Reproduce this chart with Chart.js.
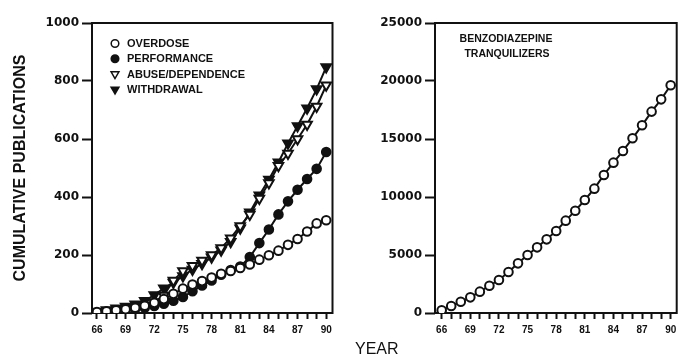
<!DOCTYPE html>
<html>
<head>
<meta charset="utf-8">
<script src="https://cdn.jsdelivr.net/npm/chart.js"></script>
<style>
  html, body { margin: 0; padding: 0; background: #fff; }
  #wrap { position: relative; width: 678px; height: 356px; overflow: hidden; }
  canvas { position: absolute; top: 0; }
  #left { left: 0; }
  #right { left: 340px; }
  #year { position: absolute; left: 355px; top: 340px; font: 16px "Liberation Sans", Arial, sans-serif; color: #111; }
</style>
</head>
<body>
<div id="wrap">
  <canvas id="left" width="340" height="356"></canvas>
  <canvas id="right" width="343" height="356"></canvas>
  <div id="year">YEAR</div>
</div>
<script>
// years on the x axis, tick labels every 3 years
var years = [66, 67, 68, 69, 70, 71, 72, 73, 74, 75, 76, 77, 78, 79, 80, 81, 82, 83, 84, 85, 86, 87, 88, 89, 90];
var xTickLabels = [66, 69, 72, 75, 78, 81, 84, 87, 90];

// left panel, cumulative publications by topic
var overdose    = [3, 6, 9, 13, 18, 25, 35, 48, 66, 84, 98, 110, 122, 135, 145, 155, 167, 184, 199, 215, 235, 255, 281, 309, 320];
var performance = [2, 4, 7, 10, 14, 18, 24, 32, 42, 55, 75, 95, 112, 132, 148, 160, 193, 241, 288, 340, 385, 425, 462, 497, 555];
var abuse       = [2, 5, 9, 13, 18, 26, 38, 60, 112, 145, 163, 181, 200, 224, 258, 300, 340, 395, 448, 508, 550, 600, 650, 712, 785];
var withdrawal  = [5, 10, 16, 22, 30, 42, 62, 85, 105, 128, 150, 170, 192, 216, 246, 292, 347, 406, 460, 520, 585, 645, 706, 772, 848];
var leftYTicks  = [0, 200, 400, 600, 800, 1000];

// right panel, benzodiazepine tranquilizers
var benzo = [230, 600, 970, 1350, 1840, 2350, 2840, 3530, 4280, 5000, 5660, 6350, 7070, 7960, 8820, 9740, 10720, 11900, 12960, 13970, 15060, 16180, 17360, 18420, 19630];
var rightYTicks = [0, 5000, 10000, 15000, 20000, 25000];

var ink = '#111';

function points(values) {
    var out = [];
    for (var i = 0; i < years.length; i++) {
        out.push({x: years[i], y: values[i]});
    }
    return out;
}

function series(label, values, style, fill, rotation) {
    return {
        label: label,
        data: points(values),
        borderColor: ink,
        borderWidth: 2,
        pointStyle: style,
        pointRotation: rotation || 0,
        pointRadius: style === 'triangle' ? 5.5 : 4.3,
        pointBorderWidth: 2,
        pointBorderColor: ink,
        pointBackgroundColor: fill,
        tension: 0
    };
}

// box round the plot area
var framePlugin = {
    id: 'frame',
    beforeDatasetsDraw: function(chart) {
        var ctx = chart.ctx, a = chart.chartArea;
        ctx.save();
        ctx.strokeStyle = ink;
        ctx.lineWidth = 2;
        ctx.strokeRect(a.left, a.top, a.right - a.left, a.bottom - a.top);
        ctx.restore();
    }
};

// legend inside the left plot
var inlineLegend = {
    id: 'inlineLegend',
    afterDatasetsDraw: function(chart) {
        var ctx = chart.ctx;
        ctx.save();
        chart.data.datasets.forEach(function(ds, i) {
            var y = 43.5 + i * 15.3;
            ctx.fillStyle = ds.pointBackgroundColor;
            ctx.strokeStyle = ink;
            ctx.lineWidth = 1.5;
            Chart.helpers.drawPoint(ctx, {
                pointStyle: ds.pointStyle,
                radius: ds.pointStyle === 'triangle' ? 4.5 : 3.8,
                rotation: ds.pointRotation,
                borderWidth: 1.5
            }, 115, y);
            ctx.fillStyle = ink;
            ctx.font = 'bold 11px "Liberation Sans", Arial, sans-serif';
            ctx.textBaseline = 'middle';
            ctx.textAlign = 'left';
            ctx.fillText(ds.label, 127, y + 0.5);
        });
        ctx.restore();
    }
};

var benzoNote = {
    id: 'benzoNote',
    afterDatasetsDraw: function(chart) {
        var ctx = chart.ctx;
        ctx.save();
        ctx.fillStyle = ink;
        ctx.font = 'bold 10.5px "Liberation Sans", Arial, sans-serif';
        ctx.textAlign = 'center';
        ctx.textBaseline = 'middle';
        ctx.fillText('BENZODIAZEPINE', 166, 39);
        ctx.fillText('TRANQUILIZERS', 167, 54);
        ctx.restore();
    }
};

function options(cfg) {
    return {
        responsive: false,
        animation: false,
        layout: {padding: {left: 0, top: 23, right: cfg.padRight, bottom: 13}},
        plugins: {legend: {display: false}, tooltip: {enabled: false}},
        scales: {
            x: {
                type: 'linear',
                min: cfg.xMin,
                max: cfg.xMax,
                afterBuildTicks: function(s) { s.ticks = years.map(function(v) { return {value: v}; }); },
                afterFit: function(s) { s.height = 30; },
                border: {display: false},
                grid: {drawOnChartArea: false, drawTicks: true, tickLength: 6, tickColor: ink, tickWidth: 2},
                ticks: {
                    autoSkip: false,
                    maxRotation: 0,
                    padding: 5,
                    color: ink,
                    font: {family: '"Liberation Sans", Arial, sans-serif', size: 10, weight: 'bold'},
                    callback: function(v) { return xTickLabels.indexOf(v) >= 0 ? String(v) : ''; }
                }
            },
            y: {
                min: 0,
                max: cfg.yMax,
                afterBuildTicks: function(s) { s.ticks = cfg.yTicks.map(function(v) { return {value: v}; }); },
                afterFit: function(s) { s.width = cfg.yWidth; },
                border: {display: false},
                grid: {drawOnChartArea: false, drawTicks: true, tickLength: 10, tickColor: ink, tickWidth: 2},
                ticks: {
                    padding: 3,
                    color: ink,
                    font: {family: '"DejaVu Sans", sans-serif', size: 12, weight: 'bold'},
                    callback: function(v) { return String(v); }
                },
                title: cfg.yTitle || {display: false}
            }
        }
    };
}

new Chart(document.getElementById('left'), {
    type: 'line',
    data: {
        datasets: [
            series('OVERDOSE', overdose, 'circle', '#fff'),
            series('PERFORMANCE', performance, 'circle', ink),
            series('ABUSE/DEPENDENCE', abuse, 'triangle', '#fff', 180),
            series('WITHDRAWAL', withdrawal, 'triangle', ink, 180)
        ]
    },
    options: options({
        xMin: 65.48, xMax: 90.66, yMax: 1000, yTicks: leftYTicks, yWidth: 92, padRight: 7,
        yTitle: {
            display: true,
            text: 'CUMULATIVE PUBLICATIONS',
            color: ink,
            font: {family: '"Liberation Sans", Arial, sans-serif', size: 16, weight: 'bold'},
            padding: {top: 11, bottom: 0}
        }
    }),
    plugins: [framePlugin, inlineLegend]
});

new Chart(document.getElementById('right'), {
    type: 'line',
    data: {
        datasets: [
            series('BENZODIAZEPINE TRANQUILIZERS', benzo, 'circle', '#fff')
        ]
    },
    options: options({
        xMin: 65.3, xMax: 90.63, yMax: 25000, yTicks: rightYTicks, yWidth: 95, padRight: 1
    }),
    plugins: [framePlugin, benzoNote]
});
</script>
</body>
</html>
